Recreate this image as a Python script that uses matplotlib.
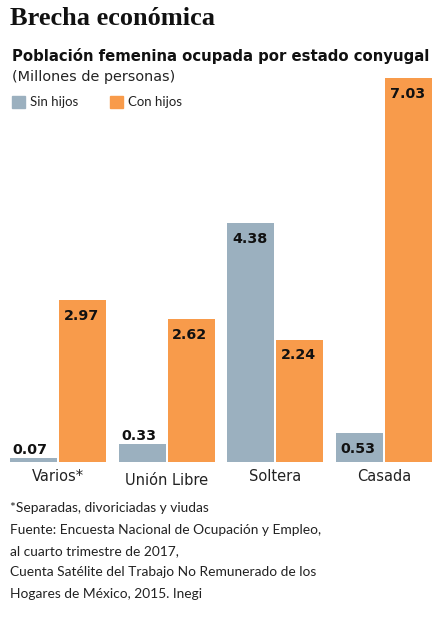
import matplotlib
matplotlib.use("Agg")
import matplotlib.pyplot as plt
import numpy as np

# datos
categorias = ["Varios*", "Unión Libre", "Soltera", "Casada"]
sin_hijos = [0.07, 0.33, 4.38, 0.53]
con_hijos = [2.97, 2.62, 2.24, 7.03]
serie_nombres = ["Sin hijos", "Con hijos"]
notas = [
    "*Separadas, divoriciadas y viudas",
    "Fuente: Encuesta Nacional de Ocupación y Empleo,",
    "al cuarto trimestre de 2017,",
    "Cuenta Satélite del Trabajo No Remunerado de los",
    "Hogares de México, 2015. Inegi",
]

azul = "#9bb0bf"
naranja = "#f89b4b"
W, H = 442, 620
ligera = ["Lato", "DejaVu Sans"]

fig = plt.figure(figsize=(W / 100, H / 100), dpi=100)
fig.patch.set_facecolor("white")

# ejes: base en y=462 px, tope (7.03) en y=78 px
ax = fig.add_axes([10 / W, (H - 462) / H, 422 / W, 384 / H])
ax.set_xlim(-0.442, 3.442)
ax.set_ylim(0, max(con_hijos))
ax.axis("off")

x = np.arange(len(categorias))
ancho = 0.432
b1 = ax.bar(x - ancho / 2 - 0.01, sin_hijos, ancho, color=azul)
b2 = ax.bar(x + ancho / 2 + 0.01, con_hijos, ancho, color=naranja)

for barras in (b1, b2):
    for b in barras:
        v = b.get_height()
        if v > 0.5:
            ax.annotate(f"{v:.2f}", (b.get_x(), v), xytext=(3.3, -6.3),
                        textcoords="offset points", ha="left", va="top",
                        fontsize=10.3, fontweight="bold", family="DejaVu Sans",
                        color="#111111")
        else:
            ax.annotate(f"{v:.2f}", (b.get_x(), v), xytext=(1.8, 3),
                        textcoords="offset points", ha="left", va="baseline",
                        fontsize=10.3, fontweight="bold", family="DejaVu Sans",
                        color="#111111")

for i, c in enumerate(categorias):
    dy = -16.6 if c == "Unión Libre" else -13.7
    ax.annotate(c, (x[i], 0), xytext=(0, dy), textcoords="offset points",
                ha="center", va="baseline", fontsize=10.5, family="DejaVu Sans",
                color="#222222")

fig.text(10 / W, 1 - 25 / H, "Brecha económica", fontsize=19, fontweight="bold",
         family=["Liberation Serif", "DejaVu Serif"], va="baseline", color="#111111")
fig.text(12 / W, 1 - 60.7 / H, "Población femenina ocupada por estado conyugal",
         fontsize=10.75, fontweight="bold", family="DejaVu Sans", va="baseline",
         color="#111111")
fig.text(12 / W, 1 - 81 / H, "(Millones de personas)", fontsize=10.4,
         family="DejaVu Sans", va="baseline", color="#222222")

# leyenda
for j, (nom, col) in enumerate(zip(serie_nombres, [azul, naranja])):
    x0 = 12 + j * 98
    fig.patches.append(plt.Rectangle((x0 / W, 1 - 108 / H), 13 / W, 12 / H,
                                     transform=fig.transFigure, color=col))
    fig.text((x0 + 18) / W, 1 - 106.5 / H, nom, fontsize=9.5, family=ligera,
             va="baseline", color="#222222")

for k, linea in enumerate(notas):
    fig.text(10 / W, 1 - (512 + k * 21.5) / H, linea, fontsize=9.9,
             family=ligera, va="baseline", color="#222222")

fig.savefig("out.png", dpi=100)
